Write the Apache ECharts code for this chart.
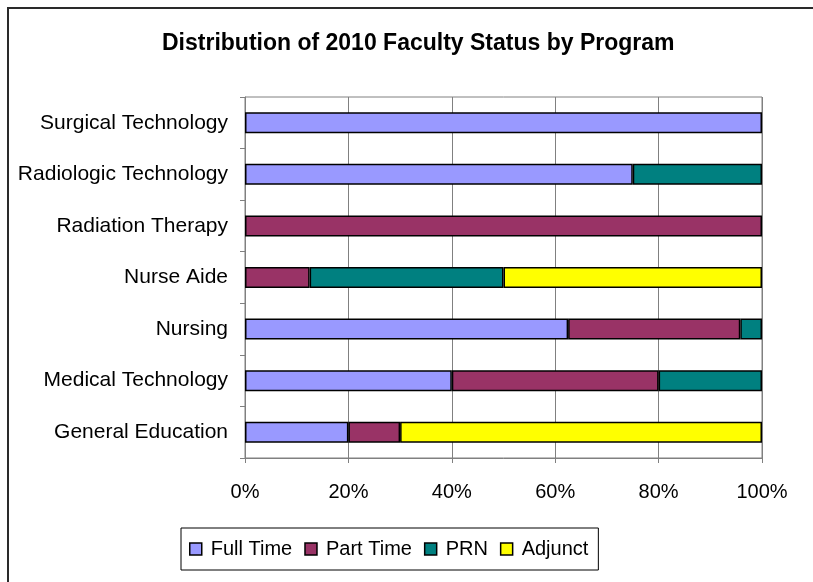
<!DOCTYPE html>
<html>
<head>
<meta charset="utf-8">
<script src="https://cdn.jsdelivr.net/npm/echarts@6/dist/echarts.min.js"></script>
<style>
  html, body { margin: 0; padding: 0; background: #fff; }
  #chart { width: 813px; height: 582px; }
</style>
</head>
<body>
<div id="chart"></div>
<script>
// programs, bottom to top
var programs = ['General Education', 'Medical Technology', 'Nursing', 'Nurse Aide',
  'Radiation Therapy', 'Radiologic Technology', 'Surgical Technology'];
var fullTime = [20, 40, 62.5, null, null, 75, 100];
var partTime = [10, 40, 33.3, 12.5, 100, null, null];
var prn = [null, 20, 4.2, 37.5, null, 25, null];
var adjunct = [70, null, null, 50, null, null, null];
var pctTicks = [0, 20, 40, 60, 80, 100];

var font = 'Liberation Sans, Arial, sans-serif';

var chart = echarts.init(document.getElementById('chart'));

function bar(name, data, color) {
  return {
    name: name,
    type: 'bar',
    stack: 'all',
    data: data,
    barWidth: 21,
    itemStyle: { color: color, borderColor: '#000', borderWidth: 1.5 },
    emphasis: { disabled: true }
  };
}

option = {
  animation: false,
  textStyle: { fontFamily: font },
  title: {
    text: 'Distribution of 2010 Faculty Status by Program',
    left: 157,
    top: 27,
    textStyle: { color: '#000', fontSize: 23, fontWeight: 'bold', fontFamily: font }
  },
  graphic: [{
    type: 'rect',
    shape: { x: 8, y: 8, width: 900, height: 700 },
    style: { fill: null, stroke: '#2a2a2a', lineWidth: 2 },
    silent: true
  }],
  legend: {
    data: ['Full Time', 'Part Time', 'PRN', 'Adjunct'],
    icon: 'rect',
    left: 181,
    top: 528,
    itemWidth: 12,
    itemHeight: 12,
    itemGap: 12,
    padding: [11, 10, 11, 8],
    borderColor: '#000',
    borderWidth: 1,
    itemStyle: { borderColor: '#000', borderWidth: 1.5 },
    textStyle: { color: '#000', fontSize: 20, fontFamily: font, padding: [0, 0, 0, 4] }
  },
  grid: {
    left: 245,
    right: 51,
    top: 97,
    bottom: 124,
    show: true,
    borderColor: '#808080',
    borderWidth: 1
  },
  xAxis: {
    type: 'value',
    min: pctTicks[0],
    max: pctTicks[pctTicks.length - 1],
    interval: 20,
    axisLine: { show: true, lineStyle: { color: '#808080' } },
    axisTick: { show: true, length: 5, lineStyle: { color: '#808080' } },
    splitLine: { lineStyle: { color: '#808080', width: 1 } },
    axisLabel: { color: '#000', fontSize: 20, margin: 24, formatter: '{value}%' }
  },
  yAxis: {
    type: 'category',
    data: programs,
    axisLine: { show: true, lineStyle: { color: '#808080' } },
    axisTick: { show: true, length: 5, lineStyle: { color: '#808080' } },
    axisLabel: { color: '#000', fontSize: 21, margin: 17 }
  },
  series: [
    bar('Full Time', fullTime, '#9999FF'),
    bar('Part Time', partTime, '#993366'),
    bar('PRN', prn, '#008080'),
    bar('Adjunct', adjunct, '#FFFF00')
  ]
};

chart.setOption(option);
</script>
</body>
</html>
